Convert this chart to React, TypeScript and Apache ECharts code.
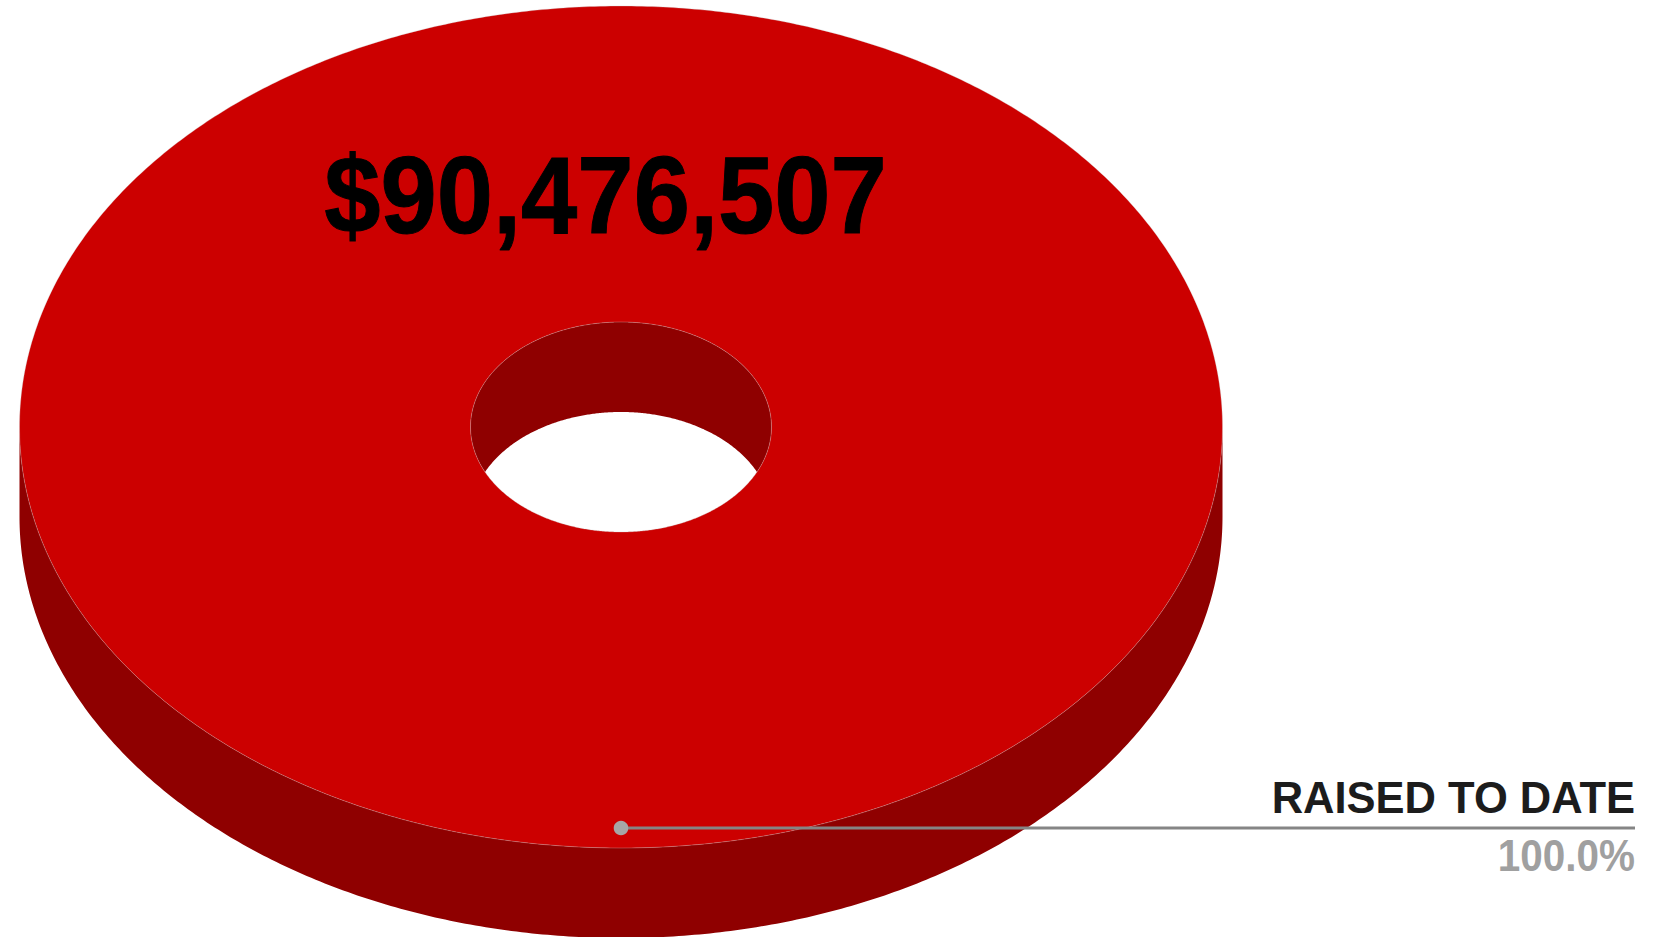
import React, { useEffect, useRef } from "react";
import * as echarts from "echarts";

// Campaign total, shown as a single slice of a tilted doughnut.
const sliceNames = ["RAISED TO DATE"];
const sliceValues = [90476507];

const WIDTH = 1657;
const HEIGHT = 937;

const TOP_COLOR = "#cc0000";
const WALL_COLOR = "#8f0000";
const EDGE_COLOR = "rgba(205,205,205,0.3)";

const CX = 621;
const CY = 427;
const RX = 601.5;
const RY = 421;
const HOLE_RX = 150.5;
const HOLE_RY = 105;
const DEPTH = 90;
const START = -Math.PI / 2;

type Pt = [number, number];

// Samples an elliptical arc between two angles, measured clockwise on screen.
function arc(cx: number, cy: number, rx: number, ry: number, a0: number, a1: number): Pt[] {
  const steps = Math.max(2, Math.ceil((Math.abs(a1 - a0) / (2 * Math.PI)) * 720));
  const pts: Pt[] = [];
  for (let i = 0; i <= steps; i++) {
    const a = a0 + ((a1 - a0) * i) / steps;
    pts.push([cx + rx * Math.cos(a), cy + ry * Math.sin(a)]);
  }
  return pts;
}

function renderSlice(_params: any, api: any) {
  const total = sliceValues.reduce((s, v) => s + v, 0);
  const share = api.value(0) / total;
  const end = START + share * 2 * Math.PI;
  const mid = (START + end) / 2;

  // Outer side wall: only the front half of the rim faces the viewer.
  const frontFrom = Math.max(START, 0);
  const frontTo = Math.min(end, Math.PI);
  const outerWall = [
    ...arc(CX, CY + DEPTH, RX, RY, frontFrom, frontTo),
    ...arc(CX, CY, RX, RY, frontTo, frontFrom),
  ];

  // Inner wall: back of the hole, cut by the same ellipse dropped by the depth.
  const halfDrop = DEPTH / 2 / HOLE_RY;
  const t = Math.asin(halfDrop);
  const innerWall = [
    ...arc(CX, CY, HOLE_RX, HOLE_RY, Math.PI - t, 2 * Math.PI + t),
    ...arc(CX, CY + DEPTH, HOLE_RX, HOLE_RY, -t, -Math.PI + t),
  ];

  const topFace = [
    ...arc(CX, CY, RX, RY, START, end),
    ...arc(CX, CY, HOLE_RX, HOLE_RY, end, START),
  ];

  // Leader from the middle of the slice out to the right-aligned label.
  const dotX = CX + RX * 0.9525 * Math.cos(mid);
  const dotY = CY + RY * 0.9525 * Math.sin(mid);
  const labelRight = 1635;

  const edge = { fill: "none", stroke: EDGE_COLOR, lineWidth: 1 };

  return {
    type: "group",
    children: [
      { type: "polygon", shape: { points: outerWall }, style: { fill: WALL_COLOR } },
      { type: "polygon", shape: { points: innerWall }, style: { fill: WALL_COLOR } },
      { type: "polygon", shape: { points: topFace }, style: { fill: TOP_COLOR } },
      { type: "ellipse", shape: { cx: CX, cy: CY, rx: RX, ry: RY }, style: edge },
      { type: "ellipse", shape: { cx: CX, cy: CY, rx: HOLE_RX, ry: HOLE_RY }, style: edge },
      {
        type: "text",
        x: 605.5,
        y: 139,
        scaleX: 0.92,
        style: {
          text: "$" + api.value(0).toLocaleString("en-US"),
          fill: "#000000",
          stroke: "#000000",
          lineWidth: 1,
          font: 'bold 110px "Liberation Sans"',
          textAlign: "center",
        },
      },
      {
        type: "line",
        shape: { x1: dotX, y1: dotY, x2: labelRight, y2: dotY },
        style: { stroke: "#858585", lineWidth: 3 },
      },
      { type: "circle", shape: { cx: dotX, cy: dotY, r: 7.3 }, style: { fill: "#a6a6a6" } },
      {
        type: "text",
        x: labelRight,
        y: 776,
        style: {
          text: sliceNames[0],
          fill: "#1c1c1c",
          font: 'bold 43.5px "Liberation Sans"',
          textAlign: "right",
        },
      },
      {
        type: "text",
        x: labelRight,
        y: 834,
        scaleX: 0.92,
        style: {
          text: (share * 100).toFixed(1) + "%",
          fill: "#a0a0a0",
          font: 'bold 44px "Liberation Sans"',
          textAlign: "right",
        },
      },
    ],
  };
}

export default function App() {
  const ref = useRef<HTMLDivElement>(null);

  useEffect(() => {
    const chart = echarts.init(ref.current!, undefined, { renderer: "svg" });
    chart.setOption({
      animation: false,
      backgroundColor: "#ffffff",
      series: [
        {
          type: "custom",
          coordinateSystem: "none",
          silent: true,
          clip: false,
          renderItem: renderSlice,
          data: sliceValues.map((v) => [v]),
        },
      ],
    });
    return () => chart.dispose();
  }, []);

  return (
    <div
      ref={ref}
      style={{ position: "absolute", left: 0, top: 0, width: WIDTH, height: HEIGHT }}
    />
  );
}
